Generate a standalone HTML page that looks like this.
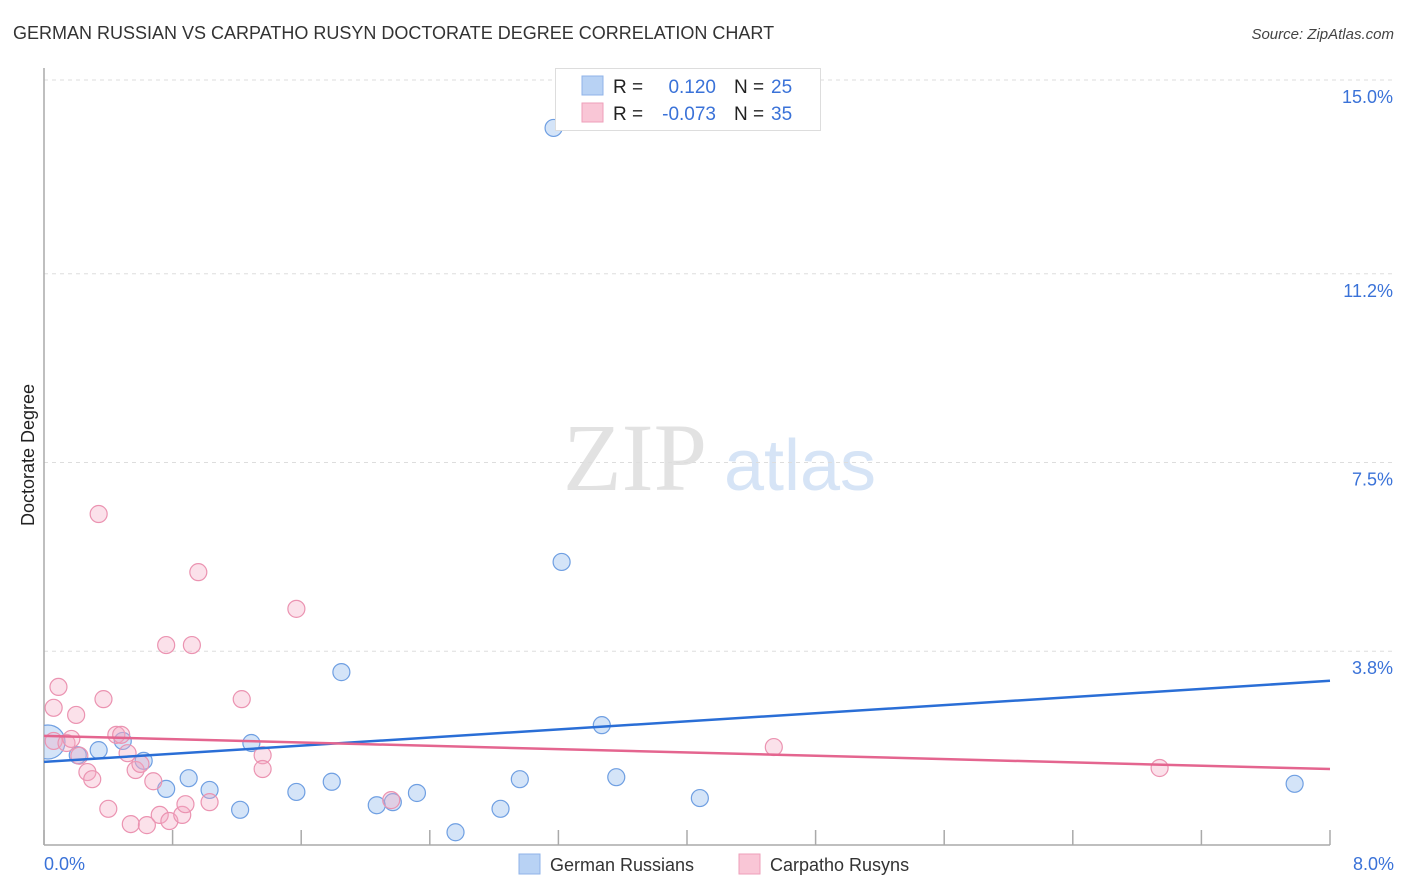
<!DOCTYPE html>
<html><head><meta charset="utf-8"><style>
body{margin:0;background:#fff;font-family:"Liberation Sans",sans-serif}
svg{display:block}
</style></head><body>
<svg width="1406" height="892" xmlns="http://www.w3.org/2000/svg">
<text x="13" y="39" font-size="18" fill="#333">GERMAN RUSSIAN VS CARPATHO RUSYN DOCTORATE DEGREE CORRELATION CHART</text>
<text x="1394" y="39" font-size="15" fill="#444" font-style="italic" text-anchor="end">Source: ZipAtlas.com</text>
<g>
<text x="635" y="490" font-size="96" font-family="Liberation Serif,serif" fill="#e2e2e2" text-anchor="middle">ZIP</text>
<text x="800" y="490" font-size="72" fill="#d6e4f6" text-anchor="middle">atlas</text>
</g>
<g id="grid"></g>
<g id="axes"></g>
<text transform="translate(34,455) rotate(-90)" font-size="18" fill="#222" text-anchor="middle">Doctorate Degree</text>
<text x="44" y="870" font-size="18" fill="#3a72d8">0.0%</text>
<text x="1394" y="870" font-size="18" fill="#3a72d8" text-anchor="end">8.0%</text>
<defs><clipPath id="plotclip"><rect x="44" y="60" width="1320" height="785"/></clipPath></defs>
<g id="points" clip-path="url(#plotclip)"></g>
<g id="lines"></g>
<g>
<rect x="555.5" y="68.5" width="265" height="62" fill="#fff" stroke="#ddd"/>
<rect x="582" y="76" width="21" height="19" fill="#b8d2f4" stroke="#8fb3e8"/>
<rect x="582" y="103" width="21" height="19" fill="#f9c6d6" stroke="#ee9fba"/>
<text x="613" y="93" font-size="19" fill="#222">R = </text><text x="716" y="93" font-size="19" fill="#3a72d8" text-anchor="end">0.120</text>
<text x="734" y="93" font-size="19" fill="#222">N = </text><text x="771" y="93" font-size="19" fill="#3a72d8">25</text>
<text x="613" y="120" font-size="19" fill="#222">R = </text><text x="716" y="120" font-size="19" fill="#3a72d8" text-anchor="end">-0.073</text>
<text x="734" y="120" font-size="19" fill="#222">N = </text><text x="771" y="120" font-size="19" fill="#3a72d8">35</text>
</g>
<g>
<rect x="519" y="854" width="21" height="20" fill="#b8d2f4" stroke="#8fb3e8"/>
<text x="550" y="871" font-size="18" fill="#333">German Russians</text>
<rect x="739" y="854" width="21" height="20" fill="#f9c6d6" stroke="#ee9fba"/>
<text x="770" y="871" font-size="18" fill="#333">Carpatho Rusyns</text>
</g>
</svg>
<script>
const yTicks=[3.8,7.5,11.2,15.0];
const yTickLabels=["3.8%","7.5%","11.2%","15.0%"];
const xTicks=[0,0.8,1.6,2.4,3.2,4.0,4.8,5.6,6.4,7.2,8.0];
const blueX=[0.025,0.21,0.34,0.49,0.62,0.76,0.90,1.03,1.22,1.29,1.57,1.79,1.85,2.07,2.17,2.32,2.56,2.84,2.96,3.17,3.22,3.47,3.56,4.08,7.78];
const blueY=[2.02,1.76,1.86,2.04,1.65,1.10,1.31,1.08,0.69,2.00,1.04,1.24,3.39,0.78,0.84,1.02,0.25,0.71,1.29,14.06,5.55,2.35,1.33,0.92,1.20];
const pinkX=[0.06,0.09,0.06,0.14,0.17,0.20,0.22,0.27,0.30,0.34,0.37,0.40,0.45,0.48,0.52,0.54,0.57,0.60,0.64,0.68,0.72,0.76,0.78,0.86,0.88,0.92,0.96,1.03,1.23,1.36,1.36,1.57,2.16,4.54,6.94];
const pinkY=[2.69,3.10,2.04,2.00,2.08,2.55,1.75,1.43,1.29,6.49,2.86,0.71,2.16,2.16,1.80,0.41,1.47,1.59,0.39,1.25,0.59,3.92,0.47,0.59,0.80,3.92,5.35,0.84,2.86,1.76,1.49,4.63,0.88,1.92,1.51];
const blueTrend=[1.63,3.22];
const pinkTrend=[2.14,1.49];
const NS="http://www.w3.org/2000/svg";
const X=v=>44+v/8*1286, Y=v=>845-v/15*765;
function mk(tag,attrs,parent){const e=document.createElementNS(NS,tag);for(const k in attrs)e.setAttribute(k,attrs[k]);parent.appendChild(e);return e;}
const grid=document.getElementById('grid'),axes=document.getElementById('axes'),pts=document.getElementById('points'),lines=document.getElementById('lines');
yTicks.forEach((t,i)=>{
 const l=mk('line',{x1:44,x2:1394,y1:Y(t),y2:Y(t),stroke:'#ddd','stroke-dasharray':'4,4'},grid);
 
 
 const tx=mk('text',{x:1393,y:Y(t)+23,'font-size':18,fill:'#3a72d8','text-anchor':'end'},grid);
 tx.textContent=yTickLabels[i];
 
 
});
const ya=mk('line',{x1:44,x2:44,y1:68,y2:845,stroke:'#aaa','stroke-width':1.5},axes);


const xa=mk('line',{x1:44,x2:1330,y1:845,y2:845,stroke:'#aaa','stroke-width':1.5},axes);


xTicks.forEach(t=>{
 const l=mk('line',{x1:X(t),x2:X(t),y1:830,y2:845,stroke:'#aaa','stroke-width':1.5},axes);
 
 
});
blueX.forEach((v,i)=>{
 const c=mk('circle',{cx:X(v),cy:Y(blueY[i]),r:i===0?17:8.5,fill:'rgba(160,196,240,0.45)',stroke:'#6f9fe2','stroke-width':1.2},pts);
 
 
});
pinkX.forEach((v,i)=>{
 const c=mk('circle',{cx:X(v),cy:Y(pinkY[i]),r:8.5,fill:'rgba(244,170,195,0.35)',stroke:'#eb93b1','stroke-width':1.2},pts);
 
 
});
const bl=mk('line',{x1:X(0),x2:X(8),y1:Y(blueTrend[0]),y2:Y(blueTrend[1]),stroke:'#2a6ed6','stroke-width':2.5},lines);


const pl=mk('line',{x1:X(0),x2:X(8),y1:Y(pinkTrend[0]),y2:Y(pinkTrend[1]),stroke:'#e4658f','stroke-width':2.5},lines);


</script>
</body></html>
